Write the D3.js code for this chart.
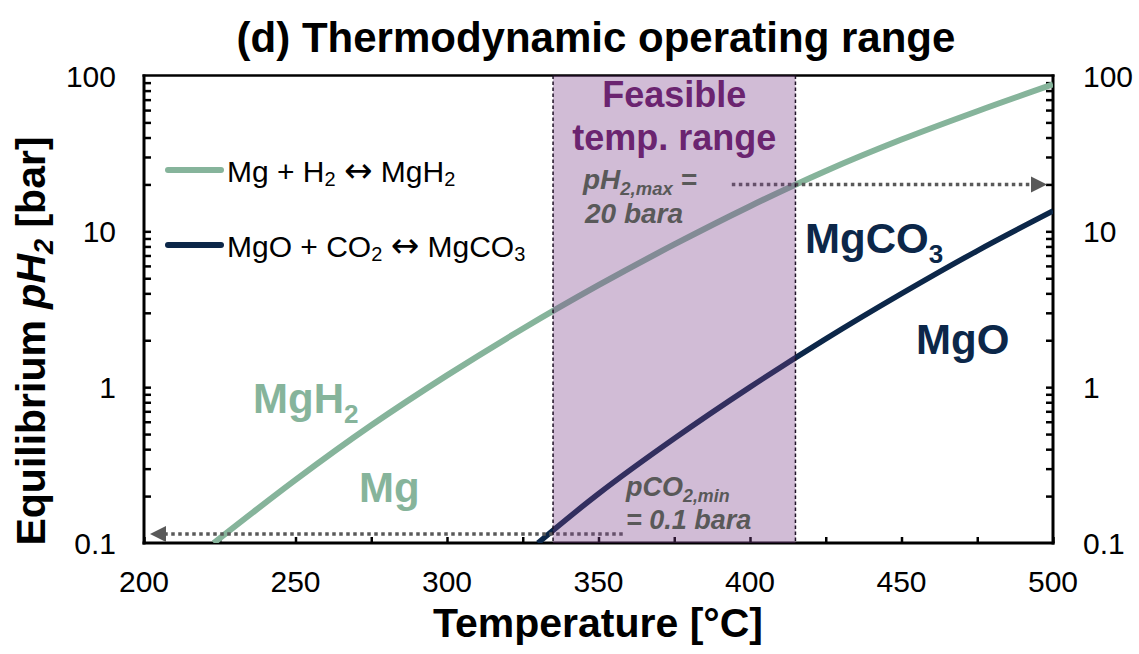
<!DOCTYPE html>
<html>
<head>
<meta charset="utf-8">
<script src="https://cdn.jsdelivr.net/npm/d3@7"></script>
<style>
  html, body { margin: 0; padding: 0; background: #ffffff; }
  svg { display: block; font-family: "Liberation Sans", Arial, Helvetica, sans-serif; }
</style>
</head>
<body>
<svg id="chart" width="1139" height="654"></svg>
<script>
// Equilibrium pressure of Mg + H2 <-> MgH2 (bar) vs temperature (°C)
const mgh2Temp = [223, 250, 275, 300, 325, 350, 375, 400, 425, 450, 475, 500];
const mgh2P    = [0.1, 0.254, 0.569, 1.19, 2.37, 4.51, 8.24, 14.5, 24.4, 38.8, 59, 87.7];

// Equilibrium pressure of MgO + CO2 <-> MgCO3 (bar) vs temperature (°C)
const mgco3Temp = [330, 350, 375, 400, 425, 450, 475, 500];
const mgco3P    = [0.1, 0.207, 0.468, 1.0, 2.04, 3.98, 7.5, 13.5];

// Axis ticks
const xTickValues = [200, 250, 300, 350, 400, 450, 500];
const xMinorTicks = [225, 275, 325, 375, 425, 475];
const yTickValues = [0.1, 1, 10, 100];
const yTickLabels = ["0.1", "1", "10", "100"];

// Feasible operating window and pressure limits
const feasibleRange = [335, 415];
const pH2Max = 20;
const pCO2Min = 0.1;
const h2GuideTemps = [394, 500];
const co2GuideTemps = [358, 200];

const colors = {
  mgh2: "#86b49b",
  mgco3: "#0c2749",
  purple: "#6b2470",
  shade: "#7b3f8a",
  note: "#595959"
};

const svg = d3.select("#chart");
const x = d3.scaleLinear().domain([200, 500]).range([144, 1053]);
const y = d3.scaleLog().domain([0.1, 100]).range([543, 75.5]);

// clip for the curves
svg.append("defs").append("clipPath").attr("id", "plotClip")
  .append("rect")
  .attr("x", x(200)).attr("y", y(100))
  .attr("width", x(500) - x(200)).attr("height", y(0.1) - y(100));

// ---------- axes ----------
const axisG = svg.append("g");
const yMinor = [];
[0.1, 1, 10].forEach(d => { for (let k = 2; k <= 9; k++) yMinor.push(d * k); });

// left axis (ticks inward)
axisG.append("g")
  .attr("transform", `translate(${x(200)},0)`)
  .call(d3.axisRight(y).tickValues(yMinor.concat([1, 10])).tickSize(7).tickFormat(""))
  .call(g => g.select(".domain").remove())
  .call(g => g.selectAll(".tick line").attr("stroke", "#000").attr("stroke-width", 2.5));

// right axis (ticks inward)
axisG.append("g")
  .attr("transform", `translate(${x(500)},0)`)
  .call(d3.axisLeft(y).tickValues(yMinor.concat([1, 10])).tickSize(7).tickFormat(""))
  .call(g => g.select(".domain").remove())
  .call(g => g.selectAll(".tick line").attr("stroke", "#000").attr("stroke-width", 2.5));

// bottom axis (ticks inward)
axisG.append("g")
  .attr("transform", `translate(0,${y(0.1)})`)
  .call(d3.axisTop(x).tickValues(xTickValues.concat(xMinorTicks)).tickSize(6).tickFormat(""))
  .call(g => g.select(".domain").remove())
  .call(g => g.selectAll(".tick line").attr("stroke", "#000").attr("stroke-width", 2.5));

// frame
const frame = axisG.append("g").attr("stroke", "#000").attr("fill", "none");
frame.append("line").attr("x1", x(200)).attr("x2", x(200)).attr("y1", y(100) - 1).attr("y2", y(0.1) + 1.5).attr("stroke-width", 3);
frame.append("line").attr("x1", x(500)).attr("x2", x(500)).attr("y1", y(100) - 1).attr("y2", y(0.1) + 1.5).attr("stroke-width", 3);
frame.append("line").attr("x1", x(200) - 1.5).attr("x2", x(500) + 1.5).attr("y1", y(0.1)).attr("y2", y(0.1)).attr("stroke-width", 3);
frame.append("line").attr("x1", x(200) - 1.5).attr("x2", x(500) + 1.5).attr("y1", y(100)).attr("y2", y(100)).attr("stroke-width", 2.5);

// tick labels
const tickFont = 30;
svg.append("g").selectAll("text").data(xTickValues).join("text")
  .attr("x", d => x(d)).attr("y", 592)
  .attr("text-anchor", "middle").attr("font-size", tickFont).attr("fill", "#000")
  .text(d => d);
svg.append("g").selectAll("text").data(yTickValues).join("text")
  .attr("x", x(200) - 28).attr("y", d => y(d) + 11)
  .attr("text-anchor", "end").attr("font-size", tickFont).attr("fill", "#000")
  .text((d, i) => yTickLabels[i]);
svg.append("g").selectAll("text").data(yTickValues).join("text")
  .attr("x", x(500) + 30).attr("y", d => y(d) + 11)
  .attr("text-anchor", "start").attr("font-size", tickFont).attr("fill", "#000")
  .text((d, i) => yTickLabels[i]);

// ---------- curves ----------
const line = d3.line().x(d => x(d[0])).y(d => y(d[1])).curve(d3.curveCatmullRom.alpha(0.5));
const curves = svg.append("g").attr("clip-path", "url(#plotClip)");
curves.append("path")
  .datum(mgh2Temp.map((t, i) => [t, mgh2P[i]]))
  .attr("d", line).attr("fill", "none")
  .attr("stroke", colors.mgh2).attr("stroke-width", 6);
curves.append("path")
  .datum(mgco3Temp.map((t, i) => [t, mgco3P[i]]))
  .attr("d", line).attr("fill", "none")
  .attr("stroke", colors.mgco3).attr("stroke-width", 5.5);

// ---------- pressure guides (dotted arrows) ----------
function guide(t0, t1, yy) {
  const g = svg.append("g");
  const dir = t1 > t0 ? 1 : -1;
  const tipX = x(t1) - dir * 6;
  const headLen = 16;
  g.append("line")
    .attr("x1", x(t0)).attr("x2", tipX - dir * headLen)
    .attr("y1", yy).attr("y2", yy)
    .attr("stroke", colors.note).attr("stroke-width", 3.5)
    .attr("stroke-dasharray", "3.5,3.5");
  g.append("path")
    .attr("d", `M${tipX},${yy} L${tipX - dir * headLen},${yy - 8} L${tipX - dir * headLen},${yy + 8} Z`)
    .attr("fill", colors.note);
}
guide(h2GuideTemps[0], h2GuideTemps[1], y(pH2Max));
// lifted slightly so the guide sits just above the bottom axis line
guide(co2GuideTemps[0], co2GuideTemps[1], y(pCO2Min) - 9);

// ---------- feasible window ----------
const shade = svg.append("g");
shade.append("rect")
  .attr("x", x(feasibleRange[0])).attr("y", y(100))
  .attr("width", x(feasibleRange[1]) - x(feasibleRange[0]))
  .attr("height", y(0.1) - y(100))
  .attr("fill", colors.shade).attr("fill-opacity", 0.35);
feasibleRange.forEach(t => {
  shade.append("line")
    .attr("x1", x(t)).attr("x2", x(t)).attr("y1", y(100)).attr("y2", y(0.1))
    .attr("stroke", "#1e1226").attr("stroke-width", 1.5).attr("stroke-dasharray", "3.5,2.5");
});

// ---------- annotations ----------
const mid = (x(feasibleRange[0]) + x(feasibleRange[1])) / 2;
svg.append("text").attr("x", mid).attr("y", 107).attr("text-anchor", "middle")
  .attr("font-size", 36).attr("font-weight", "bold").attr("fill", colors.purple).text("Feasible");
svg.append("text").attr("x", mid).attr("y", 150).attr("text-anchor", "middle")
  .attr("font-size", 36).attr("font-weight", "bold").attr("fill", colors.purple).text("temp. range");

function subText(xx, yy, parts, opts) {
  const t = svg.append("text").attr("x", xx).attr("y", yy)
    .attr("font-size", opts.size).attr("font-weight", "bold")
    .attr("font-style", opts.italic ? "italic" : "normal")
    .attr("fill", opts.color);
  parts.forEach(p => {
    const ts = t.append("tspan").text(p.text);
    if (p.sub) ts.attr("font-size", opts.size * (opts.subScale || 0.65)).attr("dy", opts.subDy);
    else if (p.back) ts.attr("dy", -opts.subDy);
  });
  return t;
}

// pH2,max = 20 bara
subText(583, 189, [{ text: "pH" }, { text: "2,max", sub: true }, { text: " =", back: true }],
  { size: 28, italic: true, color: colors.note, subDy: 6, subScale: 0.66 });
svg.append("text").attr("x", 585).attr("y", 223).attr("font-size", 28)
  .attr("font-weight", "bold").attr("font-style", "italic").attr("fill", colors.note).text("20 bara");

// pCO2,min = 0.1 bara
subText(626, 496, [{ text: "pCO" }, { text: "2,min", sub: true }],
  { size: 27, italic: true, color: colors.note, subDy: 6, subScale: 0.66 });
svg.append("text").attr("x", 626).attr("y", 529).attr("font-size", 27)
  .attr("font-weight", "bold").attr("font-style", "italic").attr("fill", colors.note).text("= 0.1 bara");

// phase region labels
subText(253, 413, [{ text: "MgH" }, { text: "2", sub: true }],
  { size: 42, color: colors.mgh2, subDy: 10, subScale: 0.62 });
svg.append("text").attr("x", 359).attr("y", 502).attr("font-size", 42)
  .attr("font-weight", "bold").attr("fill", colors.mgh2).text("Mg");
subText(805, 253, [{ text: "MgCO" }, { text: "3", sub: true }],
  { size: 42, color: colors.mgco3, subDy: 10, subScale: 0.62 });
svg.append("text").attr("x", 916).attr("y", 354).attr("font-size", 42)
  .attr("font-weight", "bold").attr("fill", colors.mgco3).text("MgO");

// ---------- legend ----------
const legend = svg.append("g");
const legendItems = [
  { color: colors.mgh2, y: 170, parts: [{ t: "Mg + H" }, { t: "2", s: true }, { t: " " , b: true }, { t: "\u2194", a: true }, { t: " MgH" }, { t: "2", s: true }] },
  { color: colors.mgco3, y: 245, parts: [{ t: "MgO + CO" }, { t: "2", s: true }, { t: " ", b: true }, { t: "\u2194", a: true }, { t: " MgCO" }, { t: "3", s: true }] }
];
legendItems.forEach(item => {
  legend.append("line").attr("x1", 168).attr("x2", 221).attr("y1", item.y).attr("y2", item.y)
    .attr("stroke", item.color).attr("stroke-width", 6).attr("stroke-linecap", "round");
  const t = legend.append("text").attr("x", 227).attr("y", item.y + 12)
    .attr("font-size", 30).attr("fill", "#000");
  item.parts.forEach(p => {
    const ts = t.append("tspan").text(p.t);
    if (p.s) ts.attr("font-size", 20).attr("dy", 4);
    else if (p.b) ts.attr("dy", -4);
    if (p.a) ts.attr("font-family", "DejaVu Sans").attr("font-size", 34);
  });
});

// ---------- titles ----------
svg.append("text").attr("x", 596).attr("y", 52).attr("text-anchor", "middle")
  .attr("font-size", 42).attr("font-weight", "bold").attr("fill", "#000")
  .text("(d) Thermodynamic operating range");

svg.append("text").attr("x", 598).attr("y", 637).attr("text-anchor", "middle")
  .attr("font-size", 41).attr("font-weight", "bold").attr("fill", "#000")
  .text("Temperature [°C]");

const yTitle = svg.append("text")
  .attr("transform", "translate(45,341) rotate(-90)")
  .attr("text-anchor", "middle")
  .attr("font-size", 41).attr("font-weight", "bold").attr("fill", "#000");
yTitle.append("tspan").text("Equilibrium ");
yTitle.append("tspan").attr("font-style", "italic").text("pH");
yTitle.append("tspan").attr("font-style", "italic").attr("font-size", 27).attr("dy", 8).text("2");
yTitle.append("tspan").attr("dy", -8).text(" [bar]");
</script>
</body>
</html>
